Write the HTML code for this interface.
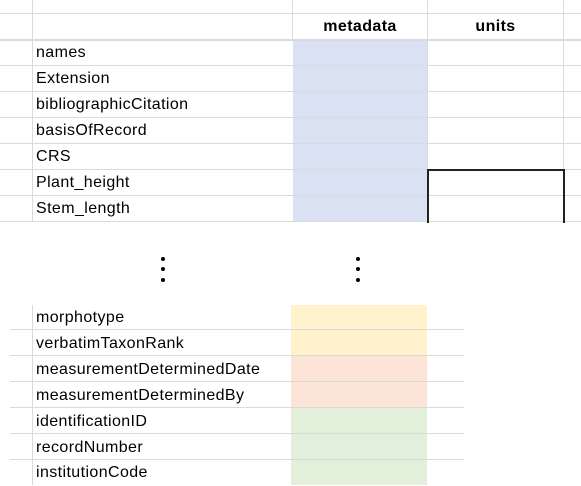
<!DOCTYPE html>
<html><head><style>
body{margin:0;width:581px;height:485px;background:#fff;position:relative;overflow:hidden;font-family:"Liberation Sans",sans-serif;font-size:16px;letter-spacing:0.4px;color:#000}
div{position:absolute}
.h{height:1px;background:#dadada}
.v{width:1px;background:#dadada}
.t{left:36px;line-height:26px;height:26px;top:0}
.b{font-weight:bold;text-align:center;line-height:26px}
.dot{width:4px;height:4px;border-radius:2px;background:#000}
</style></head><body>
<div style="left:293px;top:39px;width:134px;height:183px;background:#d9e1f2"></div>
<div class="h" style="left:0;top:13px;width:581px"></div>
<div class="h" style="left:0;top:39px;width:581px;height:2px"></div>
<div class="h" style="left:0;top:65px;width:581px"></div>
<div class="h" style="left:0;top:91px;width:581px"></div>
<div class="h" style="left:0;top:117px;width:581px"></div>
<div class="h" style="left:0;top:143px;width:581px"></div>
<div class="h" style="left:0;top:169px;width:581px"></div>
<div class="h" style="left:0;top:195px;width:581px"></div>
<div class="h" style="left:0;top:221px;width:581px"></div>
<div class="v" style="left:32px;top:0;height:222px"></div>
<div class="v" style="left:292px;top:0;height:40px"></div>
<div class="v" style="left:427px;top:0;height:222px"></div>
<div class="v" style="left:563px;top:0;height:222px"></div>
<div style="left:427px;top:169px;width:134px;height:52px;border:2px solid #222;border-bottom:none"></div>
<div class="b" style="left:293px;top:14px;width:134px">metadata</div>
<div class="b" style="left:428px;top:14px;width:135px">units</div>
<div class="t" style="top:40px">names</div>
<div class="t" style="top:66px">Extension</div>
<div class="t" style="top:92px">bibliographicCitation</div>
<div class="t" style="top:118px">basisOfRecord</div>
<div class="t" style="top:144px">CRS</div>
<div class="t" style="top:170px">Plant_height</div>
<div class="t" style="top:196px">Stem_length</div>
<div class="dot" style="left:161px;top:257px"></div>
<div class="dot" style="left:161px;top:267px"></div>
<div class="dot" style="left:161px;top:278px"></div>
<div class="dot" style="left:356px;top:257px"></div>
<div class="dot" style="left:356px;top:267px"></div>
<div class="dot" style="left:356px;top:278px"></div>
<div style="left:291px;top:305px;width:136px;height:51px;background:#fff2cc"></div>
<div style="left:291px;top:356px;width:136px;height:52px;background:#fce4d6"></div>
<div style="left:291px;top:408px;width:136px;height:77px;background:#e2efda"></div>
<div class="v" style="left:32px;top:305px;height:180px"></div>
<div class="h" style="left:10px;top:329px;width:454px"></div>
<div class="h" style="left:10px;top:355px;width:454px"></div>
<div class="h" style="left:10px;top:381px;width:454px"></div>
<div class="h" style="left:10px;top:407px;width:454px"></div>
<div class="h" style="left:10px;top:433px;width:454px"></div>
<div class="h" style="left:10px;top:459px;width:454px"></div>
<div class="t" style="top:305px">morphotype</div>
<div class="t" style="top:331px">verbatimTaxonRank</div>
<div class="t" style="top:357px">measurementDeterminedDate</div>
<div class="t" style="top:383px">measurementDeterminedBy</div>
<div class="t" style="top:409px">identificationID</div>
<div class="t" style="top:435px">recordNumber</div>
<div class="t" style="top:460px">institutionCode</div>
</body></html>
